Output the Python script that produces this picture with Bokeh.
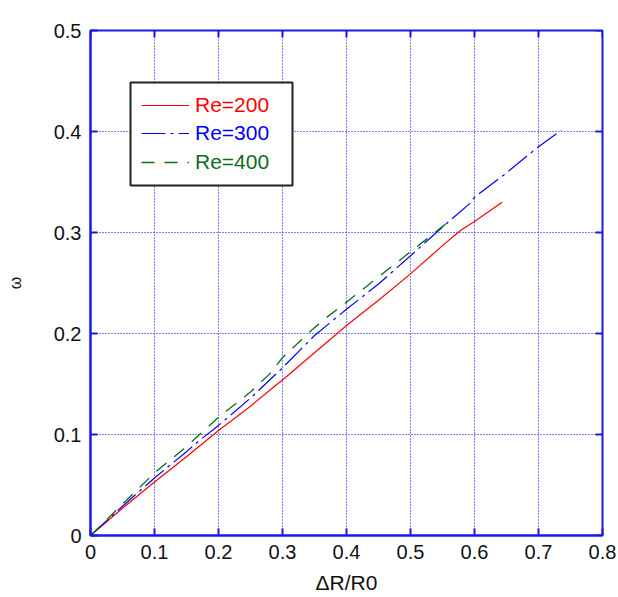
from bokeh.plotting import figure
from bokeh.models import Range1d, FixedTicker, Legend, LegendItem, BoxAnnotation
from bokeh.embed import file_html
from bokeh.resources import INLINE

# ---------------- data ----------------
x_re200 = [0, 0.05, 0.1, 0.15, 0.2, 0.25, 0.29, 0.3, 0.35, 0.4, 0.45, 0.5, 0.55, 0.578, 0.6, 0.643]
y_re200 = [0, 0.027, 0.053, 0.078, 0.104, 0.128, 0.149, 0.154, 0.181, 0.208, 0.233, 0.259, 0.287, 0.302, 0.311, 0.330]

x_re300 = [0, 0.05, 0.1, 0.15, 0.17, 0.2, 0.25, 0.3, 0.35, 0.4, 0.45, 0.5, 0.56, 0.595, 0.6, 0.65, 0.7, 0.735]
y_re300 = [0, 0.029, 0.057, 0.083, 0.094, 0.109, 0.136, 0.166, 0.198, 0.224, 0.249, 0.277, 0.311, 0.330, 0.335, 0.359, 0.385, 0.401]

x_re400 = [0, 0.05, 0.1, 0.15, 0.2, 0.25, 0.28, 0.3, 0.345, 0.365, 0.4, 0.45, 0.5, 0.56]
y_re400 = [0, 0.031, 0.062, 0.088, 0.117, 0.142, 0.160, 0.176, 0.203, 0.214, 0.231, 0.256, 0.281, 0.311]

series_labels = ["Re=200", "Re=300", "Re=400"]
x_ticks = [0, 0.1, 0.2, 0.3, 0.4, 0.5, 0.6, 0.7, 0.8]
x_tick_labels = ["0", "0.1", "0.2", "0.3", "0.4", "0.5", "0.6", "0.7", "0.8"]
y_ticks = [0, 0.1, 0.2, 0.3, 0.4, 0.5]
y_tick_labels = ["0", "0.1", "0.2", "0.3", "0.4", "0.5"]
x_title = "ΔR/R0"
y_title = "ω"

# ---------------- style ----------------
FRAME_W, FRAME_H = 512, 505
X_MIN, X_MAX, Y_MIN, Y_MAX = 0, 0.8, 0, 0.5
AXIS_BLUE = "#1a1ae6"
GRID_BLUE = "#0000ff"
RED = "#ff0000"
BLUE = "#0000ff"
GREEN = "#0a6e1a"
FONT = "Liberation Sans"
TICK_LEN = 7

p = figure(frame_width=FRAME_W, frame_height=FRAME_H,
           x_range=Range1d(X_MIN, X_MAX), y_range=Range1d(Y_MIN, Y_MAX),
           output_backend="svg", toolbar_location=None,
           min_border_left=90, min_border_right=16,
           min_border_top=30, min_border_bottom=62)
p.background_fill_color = "white"
p.border_fill_color = "white"
p.outline_line_color = AXIS_BLUE
p.outline_line_width = 2

p.xaxis.ticker = FixedTicker(ticks=x_ticks)
p.yaxis.ticker = FixedTicker(ticks=y_ticks)
p.xaxis.major_label_overrides = {float(t): s for t, s in zip(x_ticks, x_tick_labels)}
p.yaxis.major_label_overrides = {float(t): s for t, s in zip(y_ticks, y_tick_labels)}

for ax in (p.xaxis, p.yaxis):
    ax.axis_line_color = AXIS_BLUE
    ax.axis_line_width = 2
    ax.major_tick_line_color = AXIS_BLUE
    ax.major_tick_line_width = 2
    ax.major_tick_in = TICK_LEN
    ax.major_tick_out = 0
    ax.minor_tick_line_color = None
    ax.major_label_text_font = FONT
    ax.major_label_text_font_size = "20px"
    ax.major_label_text_color = "#111111"
    ax.major_label_standoff = 9
    ax.axis_label_text_font = FONT
    ax.axis_label_text_font_style = "normal"
    ax.axis_label_text_color = "#111111"

p.xaxis.axis_label = x_title
p.xaxis.axis_label_text_font_size = "21px"
p.xaxis.axis_label_standoff = 9
p.yaxis.axis_label = y_title
p.yaxis.axis_label_text_font_size = "16px"
p.yaxis.axis_label_standoff = 27

p.grid.grid_line_color = GRID_BLUE
p.grid.grid_line_dash = "1 2"
p.grid.grid_line_width = 1
p.grid.grid_line_alpha = 1
p.xgrid.ticker = FixedTicker(ticks=x_ticks)
p.ygrid.ticker = FixedTicker(ticks=y_ticks)

# inward tick marks on the top and right edges of the box (from the tick lists)
dy_tick = TICK_LEN * (Y_MAX - Y_MIN) / FRAME_H
dx_tick = TICK_LEN * (X_MAX - X_MIN) / FRAME_W
p.segment(x0=x_ticks, x1=x_ticks, y0=[Y_MAX] * len(x_ticks), y1=[Y_MAX - dy_tick] * len(x_ticks),
          line_color=AXIS_BLUE, line_width=2)
p.segment(x0=[X_MAX] * len(y_ticks), x1=[X_MAX - dx_tick] * len(y_ticks), y0=y_ticks, y1=y_ticks,
          line_color=AXIS_BLUE, line_width=2)

# ---------------- lines ----------------
r200 = p.line(x_re200, y_re200, line_color=RED, line_width=1.2)
r300 = p.line(x_re300, y_re300, line_color=BLUE, line_width=1.2, line_dash="24 5 3 5")
r400 = p.line(x_re400, y_re400, line_color=GREEN, line_width=1.3, line_dash="13 10")

# ---------------- legend box + one coloured legend per row ----------------
box = BoxAnnotation(left=40, right=202, top=453, bottom=350,
                    left_units="screen", right_units="screen",
                    top_units="screen", bottom_units="screen",
                    fill_color="white", fill_alpha=1,
                    line_color="#222222", line_alpha=1, line_width=2,
                    level="annotation")
p.add_layout(box)

renderers = [r200, r300, r400]
colors = [RED, BLUE, GREEN]
row_bottoms = [418, 390, 361]
for lab, col, rend, yb in zip(series_labels, colors, renderers, row_bottoms):
    leg = Legend(items=[LegendItem(label=lab, renderers=[rend])], location=(51, yb),
                 label_text_font=FONT, label_text_font_size="21px",
                 label_text_color=col,
                 glyph_width=48, glyph_height=24, label_height=24,
                 label_standoff=6, spacing=0, padding=0, margin=0,
                 border_line_color=None, background_fill_alpha=0)
    p.add_layout(leg)

open("out.html", "w").write(file_html(p, INLINE))
